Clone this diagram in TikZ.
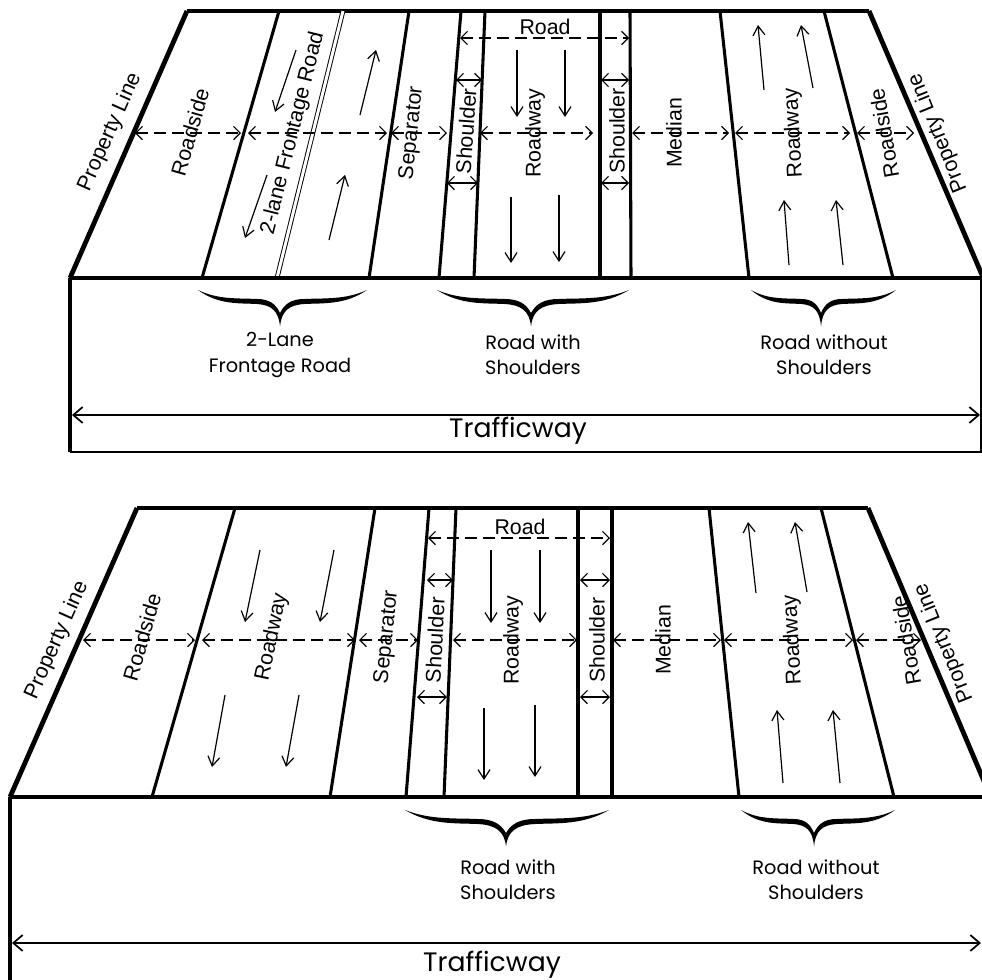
\documentclass[tikz,border=0pt]{standalone}
\usepackage{fontspec}
\setmainfont{Liberation Sans}
\newfontfamily\gothfont{Poppins}
\usetikzlibrary{arrows.meta}

\tikzset{
  edge/.style={line width=2.3pt},
  propline/.style={line width=3.6pt},
  boxline/.style={line width=0.8pt},
  dimline/.style={dash pattern=on 9pt off 4.5pt, line width=0.9pt,
    {Straight Barb[length=5pt,width=10pt]}-{Straight Barb[length=5pt,width=10pt]}},
  shoulderdim/.style={line width=0.9pt,
    {Straight Barb[length=5pt,width=10pt]}-{Straight Barb[length=5pt,width=10pt]}},
  lanearrow/.style={line width=0.9pt, -{Straight Barb[length=7pt,width=9pt]}},
  wayarrow/.style={line width=1.3pt,
    {Straight Barb[length=7pt,width=12pt]}-{Straight Barb[length=7pt,width=12pt]}},
  striplabel/.style={font=\fontsize{16}{16}\selectfont, inner sep=0pt},
  boxlabel/.style={font=\gothfont\fontsize{14.5}{19}\selectfont, align=center, inner sep=0pt},
  waylabel/.style={font=\gothfont\fontsize{20}{20}\selectfont, inner sep=0pt},
  % one half of a brace: tip at the origin, free end at x=1 (pics keep y upwards)
  halfbrace/.pic={
    \fill (1,0) .. controls (0.75,-15) and (0.5,-13) .. (0.28,-14)
      .. controls (0.1,-15) and (0.02,-21) .. (0,-36) -- (0,-23)
      .. controls (0.05,-14) and (0.13,-9) .. (0.28,-9)
      .. controls (0.5,-8) and (0.75,-10) .. (1,0) -- cycle;
  }
}

\begin{document}
\begin{tikzpicture}[x=0.75pt,y=0.75pt,yscale=-1,xscale=1]
  \useasboundingbox (0,0) rectangle (982,979);
  \clip (0,0) rectangle (982,979);

  % upper panel: road surface
  \draw[edge] (187,11) -- (869,11);
  \draw[propline] (70,278) -- (187,11);
  \draw[propline] (869,11) -- (985,282);
  \draw[edge] (279,11) -- (202,278);
  \draw[double, double distance=2.2pt, line width=0.7pt] (343,11) -- (277,278);
  \draw[edge] (409,11) -- (369,278);
  \draw[edge] (461,11) -- (439,278);
  \draw[edge] (485,11) -- (474,278);
  \draw[edge] (600,11) -- (600,278);
  \draw[edge] (630,11) -- (631,278);
  \draw[edge] (720,11) -- (749,278);
  \draw[edge] (824,11) -- (893,278);
  % upper panel: box
  \draw[edge] (70,278) -- (985,278);
  \draw[edge] (70,278) -- (70,452);
  \draw[boxline] (70,452) -- (981,452) -- (981,278);

  % upper panel: widths
  \draw[dimline] (135,133) -- (241,133);
  \draw[dimline] (248,133) -- (387,133);
  \draw[dimline] (391,133) -- (447,133);
  \draw[dimline] (480,133) -- (593,133);
  \draw[dimline] (632,133) -- (729,133);
  \draw[dimline] (735,133) -- (850,133);
  \draw[dimline] (857,133) -- (914,133);
  \draw[dimline] (460,38) -- (629,38);
  \draw[shoulderdim] (456,80) -- (482,80);
  \draw[shoulderdim] (447,183) -- (478,183);
  \draw[shoulderdim] (601,80) -- (629,80);
  \draw[shoulderdim] (601,183) -- (629,183);

  % upper panel: traffic
  \draw[lanearrow] (296,50) -- (275,112);
  \draw[lanearrow] (267,175) -- (245,238);
  \draw[lanearrow] (360,115) -- (376,50);
  \draw[lanearrow] (329,240) -- (345,175);
  \draw[lanearrow] (517,50) -- (517,117);
  \draw[lanearrow] (565,50) -- (565,117);
  \draw[lanearrow] (511,197) -- (511,263);
  \draw[lanearrow] (559,195) -- (559,262);
  \draw[lanearrow] (764,90) -- (758,25);
  \draw[lanearrow] (813,88) -- (801,25);
  \draw[lanearrow] (789,265) -- (784,200);
  \draw[lanearrow] (843,265) -- (836,200);

  % upper panel: labels
  \node[striplabel, rotate=66] (propLa) at (110,132) {Property Line};
  \node[striplabel, rotate=74] (sideLa) at (190,132) {Roadside};
  \node[striplabel, rotate=76] (fronta) at (293,133) {2-lane Frontage Road};
  \node[striplabel, rotate=84] (sepa) at (412,133) {Separator};
  \node[striplabel, rotate=86] (shLa) at (466,131) {Shoulder};
  \node[striplabel, rotate=90] (waya) at (535,133) {Roadway};
  \node[striplabel, rotate=90] (shRa) at (617,131) {Shoulder};
  \node[striplabel, rotate=90] (meda) at (674,133) {Median};
  \node[striplabel, rotate=93] (wayRa) at (794,133) {Roadway};
  \node[striplabel, rotate=100] (sideRa) at (884,133) {Roadside};
  \node[striplabel, rotate=112] (propRa) at (938,133) {Property Line};
  \node[striplabel] (roada) at (545,27) {Road};

  % upper panel: groups
  \pic[xscale=-82] at (280,290) {halfbrace};
  \pic[xscale=87] at (280,290) {halfbrace};
  \pic[xscale=-94] at (531,290) {halfbrace};
  \pic[xscale=98] at (531,290) {halfbrace};
  \pic[xscale=-70] at (821,290) {halfbrace};
  \pic[xscale=75] at (821,290) {halfbrace};
  \node[boxlabel] (fgroupa) at (280,355) {2-Lane\\Frontage Road};
  \node[boxlabel] (sgroupa) at (533,355) {Road with\\Shoulders};
  \node[boxlabel] (ngroupa) at (824,355) {Road without\\Shoulders};
  \draw[wayarrow] (72,415) -- (980,415);
  \node[waylabel] (traffica) at (518,431) {Trafficway};

  % lower panel: road surface
  \draw[edge] (137,508) -- (868,508);
  \draw[propline] (10,797) -- (137,508);
  \draw[propline] (868,508) -- (992,800);
  \draw[edge] (235,508) -- (152,797);
  \draw[edge] (375,508) -- (330,797);
  \draw[edge] (429,508) -- (406,797);
  \draw[edge] (456,508) -- (444,797);
  \draw[edge] (578,508) -- (578,797);
  \draw[edge] (612,508) -- (612,797);
  \draw[edge] (709,508) -- (739,797);
  \draw[edge] (821,508) -- (894,797);
  % lower panel: box
  \draw[edge] (10,797) -- (992,797);
  \draw[edge] (10,797) -- (10,990);

  % lower panel: widths
  \draw[dimline] (83,640) -- (195,640);
  \draw[dimline] (202,640) -- (355,640);
  \draw[dimline] (359,640) -- (418,640);
  \draw[dimline] (453,640) -- (577,640);
  \draw[dimline] (613,640) -- (721,640);
  \draw[dimline] (724,640) -- (853,640);
  \draw[dimline] (856,640) -- (921,640);
  \draw[dimline] (428,538) -- (610,538);
  \draw[shoulderdim] (427,580) -- (453,580);
  \draw[shoulderdim] (417,697) -- (447,697);
  \draw[shoulderdim] (580,580) -- (610,580);
  \draw[shoulderdim] (580,697) -- (610,697);

  % lower panel: traffic
  \draw[lanearrow] (260,550) -- (245,622);
  \draw[lanearrow] (334,550) -- (320,622);
  \draw[lanearrow] (225,695) -- (212,767);
  \draw[lanearrow] (299,695) -- (286,767);
  \draw[lanearrow] (491,550) -- (491,623);
  \draw[lanearrow] (540,550) -- (540,623);
  \draw[lanearrow] (484,708) -- (484,780);
  \draw[lanearrow] (535,705) -- (535,777);
  \draw[lanearrow] (756,593) -- (748,522);
  \draw[lanearrow] (807,592) -- (795,522);
  \draw[lanearrow] (783,783) -- (777,710);
  \draw[lanearrow] (840,783) -- (833,710);

  % lower panel: labels
  \node[striplabel, rotate=66] (propLb) at (57,640) {Property Line};
  \node[striplabel, rotate=74] (sideLb) at (142,637) {Roadside};
  \node[striplabel, rotate=78] (wayLb) at (272,637) {Roadway};
  \node[striplabel, rotate=84] (sepb) at (387,637) {Separator};
  \node[striplabel, rotate=87] (shLb) at (435,640) {Shoulder};
  \node[striplabel, rotate=90] (wayb) at (513,640) {Roadway};
  \node[striplabel, rotate=90] (shRb) at (597,640) {Shoulder};
  \node[striplabel, rotate=90] (medb) at (663,640) {Median};
  \node[striplabel, rotate=93] (wayRb) at (793,640) {Roadway};
  \node[striplabel, rotate=100] (sideRb) at (906,640) {Roadside};
  \node[striplabel, rotate=112] (propRb) at (944,643) {Property Line};
  \node[striplabel] (roadb) at (520,527) {Road};

  % lower panel: groups
  \pic[xscale=-101] at (506,810) {halfbrace};
  \pic[xscale=103] at (506,810) {halfbrace};
  \pic[xscale=-73] at (814,810) {halfbrace};
  \pic[xscale=81] at (814,810) {halfbrace};
  \node[boxlabel] (sgroupb) at (508,880) {Road with\\Shoulders};
  \node[boxlabel] (ngroupb) at (816,880) {Road without\\Shoulders};
  \draw[wayarrow] (12,943) -- (981,943);
  \node[waylabel] (trafficb) at (492,965) {Trafficway};
\end{tikzpicture}
\end{document}
